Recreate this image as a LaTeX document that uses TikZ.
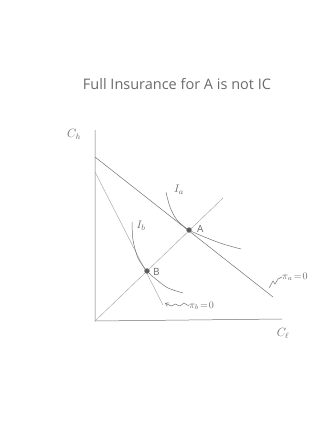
\documentclass[tikz,border=0pt]{standalone}
\usepackage{fontspec}
\setmainfont{Open Sans}
\usetikzlibrary{arrows.meta}
\begin{document}
\begin{tikzpicture}[x=1pt,y=-1pt,
  pencil/.style={draw=black!55,line width=0.5pt},
  faint/.style={draw=black!35,line width=0.45pt},
  lbl/.style={text=black!58,inner sep=0pt,font=\fontsize{10}{12}\selectfont},
  dot/.style={circle,fill=black!65,draw=black!45,inner sep=0pt,minimum size=5pt}]
\useasboundingbox[fill=white] (0,0) rectangle (330,426);
% title
\node[lbl,font=\fontsize{14.5}{16}\selectfont] (title) at (177,84) {Full Insurance for A is not IC};
% axes
\coordinate (O) at (95,321);
\coordinate (ytop) at (95,130);
\coordinate (xend) at (282,319);
\draw[pencil] (ytop) -- (O) -- (xend);
\node[lbl,font=\fontsize{12}{14}\selectfont] (ch) at (74,134) {$C_h$};
\node[lbl,font=\fontsize{12}{14}\selectfont] (cl) at (283,333) {$C_\ell$};
% zero-profit lines
\coordinate (pa1) at (95,157);
\coordinate (pa2) at (273,297);
\coordinate (pb1) at (95,172);
\coordinate (pb2) at (163,305);
\draw[pencil] (pa1) -- (pa2);
\draw[faint] (pb1) -- (pb2);
% certainty line
\coordinate (dend) at (223,198);
\draw[faint] (O) -- (dend);
% indifference curves
\draw[pencil] plot[smooth] coordinates {(166,192) (170,207) (177,220) (189,230) (207,238) (223,244) (241,249)};
\draw[pencil] plot[smooth] coordinates {(132,222) (133,240) (138,258) (147,271) (157,280) (168,288) (183,293)};
\node[lbl,font=\fontsize{11}{13}\selectfont] (Ia) at (179,190) {$I_a$};
\node[lbl,font=\fontsize{11}{13}\selectfont] (Ib) at (141,226) {$I_b$};
% points
\node[dot] (A) at (189,230) {};
\node[dot] (B) at (147,271) {};
\node[lbl,anchor=west] (Al) at (197,229) {A};
\node[lbl,anchor=west] (Bl) at (153,272) {B};
% profit labels
\node[lbl,anchor=west] (pal) at (282,277) {$\pi_a\!=\!0$};
\node[lbl,anchor=west] (pbl) at (189,306) {$\pi_b\!=\!0$};
\coordinate (paend) at (269,288);
\draw[pencil] (paend) -- (273,281) -- (275,284) -- (278,279) -- (pal.west);
\coordinate (pbend) at (165,303);
\draw[pencil,-{Straight Barb[length=3pt,width=4pt]}] (pbl.west) -- ++(-5,-3) -- ++(-4,3) -- ++(-5,-2) -- ++(-3,2) -- ++(-3,-1) -- (pbend);
\end{tikzpicture}
\end{document}
